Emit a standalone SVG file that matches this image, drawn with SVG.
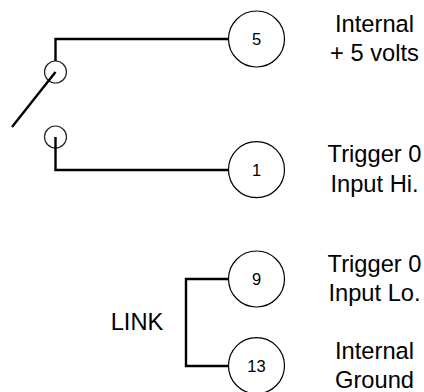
<svg xmlns="http://www.w3.org/2000/svg" width="424" height="392" viewBox="0 0 424 392">
<style>
.pin{fill:#fff;stroke:#000;stroke-width:1.2}
.sw{fill:none;stroke:#222;stroke-width:1.2}
.wire{fill:none;stroke:#000;stroke-width:2.4;stroke-linecap:butt;stroke-linejoin:miter}
text{font-family:"Liberation Sans",Arial,sans-serif;fill:#000}
.n{font-size:16.5px;text-anchor:middle}
.l{font-size:23.7px;text-anchor:middle}
</style>
<rect width="424" height="392" fill="#fff"/>
<g id="sw-top"><circle class="sw" cx="55.5" cy="72" r="11"/></g>
<g id="sw-bottom"><circle class="sw" cx="55.5" cy="137" r="11"/></g>
<g id="pin5"><circle class="pin" cx="256.5" cy="39" r="28"/><text class="n" x="256.5" y="45">5</text></g>
<g id="pin1"><circle class="pin" cx="256.5" cy="169.7" r="28"/><text class="n" x="256.5" y="175.5">1</text></g>
<g id="pin9"><circle class="pin" cx="256.5" cy="279" r="28"/><text class="n" x="256.5" y="285">9</text></g>
<g id="pin13"><circle class="pin" cx="256.5" cy="365.7" r="28"/><text class="n" x="256.5" y="372">13</text></g>
<g id="connectors">
<path class="wire" d="M55.5 61V39H228.5"/>
<path class="wire" d="M55.5 137V170H228.5"/>
<path class="wire" d="M228.5 279H186V366H228.5"/>
<path class="wire" d="M55.5 72L12 127"/>
</g>
<g id="labels">
<text class="l" x="374.5" y="32">Internal</text>
<text class="l" x="374.5" y="61">+ 5 volts</text>
<text class="l" x="374.5" y="162">Trigger 0</text>
<text class="l" x="374.5" y="192">Input Hi.</text>
<text class="l" x="374.5" y="272">Trigger 0</text>
<text class="l" x="374.5" y="301">Input Lo.</text>
<text class="l" x="374.5" y="359">Internal</text>
<text class="l" x="374.5" y="388">Ground</text>
<text class="l" x="137" y="330">LINK</text>
</g>
</svg>
